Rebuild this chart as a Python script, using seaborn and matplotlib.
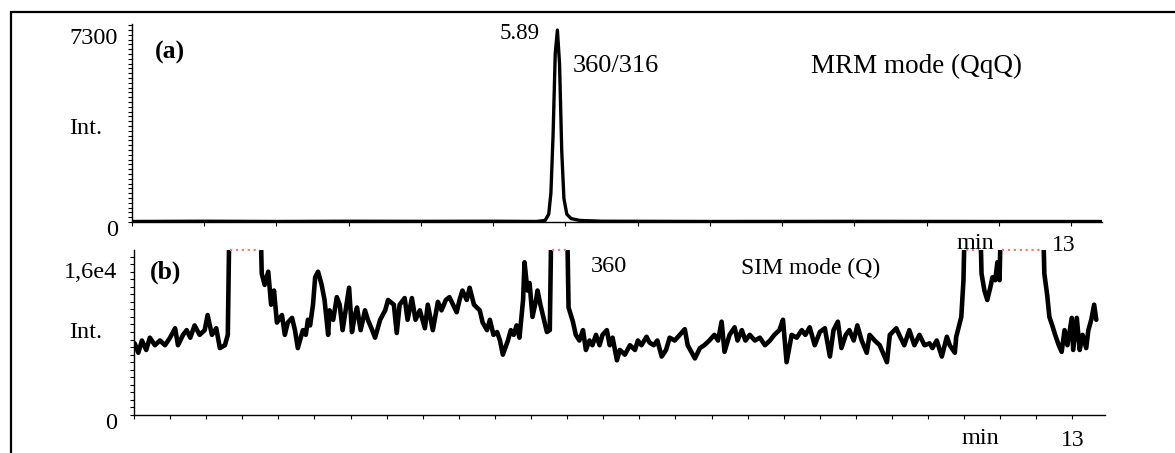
import numpy as np
import matplotlib.pyplot as plt
import seaborn as sns
from matplotlib.ticker import MultipleLocator
from matplotlib import transforms, patches

sns.set_theme(style='white')
plt.rcParams['font.family'] = ['Liberation Serif', 'DejaVu Serif']
plt.rcParams['text.color'] = 'black'

# (a) MRM trace, 360/316 transition
mrm_time = [0.0, 1.0, 2.0, 3.0, 4.0, 5.0, 5.60, 5.72, 5.77, 5.80, 5.83, 5.86, 5.89,
            5.92, 5.95, 5.98, 6.02, 6.08, 6.20, 6.50, 8.0, 10.0, 12.0, 13.43]
mrm_int = [20, 30, 20, 30, 25, 30, 20, 60, 300, 1100, 3300, 6400, 7300,
           6000, 2700, 900, 300, 130, 60, 30, 20, 25, 20, 20]

# (b) SIM trace, m/z 360 (values above the axis top are saturated)
sim_time = [0.01, 0.06, 0.11, 0.17, 0.22, 0.29, 0.36, 0.43, 0.50, 0.57, 0.61, 0.68, 0.73,
            0.78, 0.84, 0.91, 0.98, 1.02, 1.08, 1.14, 1.19, 1.26, 1.30, 1.33, 1.74, 1.77,
            1.81, 1.86, 1.90, 1.94, 1.98, 2.05, 2.09, 2.13, 2.19, 2.23, 2.27, 2.34, 2.38,
            2.41, 2.44, 2.48, 2.51, 2.55, 2.60, 2.64, 2.69, 2.71, 2.76, 2.81, 2.85, 2.89,
            2.98, 3.02, 3.06, 3.09, 3.14, 3.20, 3.24, 3.30, 3.34, 3.41, 3.48, 3.52, 3.60,
            3.64, 3.68, 3.75, 3.79, 3.85, 3.90, 3.96, 4.03, 4.07, 4.14, 4.21, 4.26, 4.32,
            4.37, 4.42, 4.47, 4.51, 4.55, 4.61, 4.65, 4.71, 4.75, 4.79, 4.83, 4.89, 4.93,
            4.98, 5.03, 5.07, 5.11, 5.18, 5.22, 5.26, 5.30, 5.34, 5.39, 5.41, 5.45, 5.48,
            5.52, 5.57, 5.59, 5.63, 5.68, 5.72, 5.76, 5.79, 5.99, 6.02, 6.08, 6.12, 6.17,
            6.22, 6.26, 6.31, 6.35, 6.40, 6.45, 6.49, 6.55, 6.59, 6.63, 6.69, 6.73, 6.80,
            6.87, 6.94, 6.98, 7.03, 7.10, 7.14, 7.20, 7.25, 7.31, 7.37, 7.42, 7.49, 7.56,
            7.63, 7.67, 7.77, 7.84, 7.90, 7.97, 8.04, 8.09, 8.14, 8.18, 8.25, 8.32, 8.36,
            8.42, 8.47, 8.53, 8.60, 8.67, 8.74, 8.81, 8.87, 8.94, 8.99, 9.04, 9.11, 9.18,
            9.25, 9.30, 9.36, 9.43, 9.50, 9.57, 9.64, 9.69, 9.75, 9.80, 9.86, 9.91, 9.97,
            10.02, 10.08, 10.15, 10.19, 10.26, 10.33, 10.43, 10.47, 10.56, 10.60, 10.67,
            10.74, 10.81, 10.88, 10.95, 11.02, 11.06, 11.12, 11.19, 11.26, 11.30, 11.37,
            11.39, 11.46, 11.49, 11.52, 11.71, 11.74, 11.78, 11.82, 11.87, 11.89, 11.93,
            11.96, 11.99, 12.02, 12.58, 12.61, 12.65, 12.68, 12.72, 12.76, 12.81, 12.85,
            12.89, 12.93, 12.99, 13.01, 13.06, 13.10, 13.14, 13.19, 13.22, 13.26, 13.30,
            13.33]
sim_int = [7600, 6600, 7900, 6900, 8200, 7400, 7900, 7400, 8200, 9200, 7400, 8500, 9000,
           8200, 9500, 8500, 9000, 10600, 8500, 9200, 7100, 7400, 8500, 25000, 25000, 15000,
           13800, 15200, 11700, 13200, 9800, 10600, 8500, 9800, 10300, 9000, 7100, 9000, 8500,
           10100, 9500, 11700, 14600, 15200, 13800, 12200, 8500, 11100, 10100, 12500, 11700, 9000,
           13500, 8800, 10600, 11400, 9000, 11100, 10100, 9000, 8200, 10100, 11100, 12200, 11700,
           8700, 11700, 12400, 10100, 12400, 10100, 11100, 9200, 11700, 9000, 12000, 11100, 12200,
           12500, 11700, 10900, 12200, 13200, 12200, 13500, 11700, 11400, 11100, 9800, 9000, 10100,
           8500, 8800, 7900, 6400, 7900, 9000, 8500, 9500, 8200, 12200, 16200, 13200, 14000,
           10400, 12200, 13200, 11700, 10100, 8800, 9000, 25000, 25000, 11400, 9900, 8500, 7900,
           9000, 6900, 7900, 7400, 8500, 7400, 8500, 9000, 7400, 8200, 5800, 6900, 6400,
           7400, 6900, 7900, 7400, 8300, 7700, 7400, 7900, 6200, 6900, 8200, 7900, 8500,
           9100, 7400, 6000, 7100, 7400, 7900, 8500, 7900, 9900, 6700, 8500, 9300, 7900,
           9000, 7900, 8500, 7900, 8200, 7400, 7900, 8500, 9000, 10100, 5600, 8500, 8200,
           9000, 8500, 9300, 7400, 8800, 9200, 6200, 9000, 9900, 7100, 8500, 9000, 7900,
           9500, 7900, 6600, 8500, 7900, 7400, 5600, 8500, 9200, 8500, 7400,
           9000, 7400, 8500, 7400, 7600, 7100, 7900, 6200, 8300, 7400, 6600,
           8300, 10400, 14300, 25000, 25000, 15000, 13200, 12200, 13800, 14600, 14300,
           16200, 14300, 25000, 25000, 15000, 12700, 10400, 9500, 8500, 7400, 6700,
           9000, 7400, 10300, 6900, 10300, 6900, 8500, 7100, 9000, 10100, 11700,
           10100]

MRM_TOP = 7530
SIM_TOP = 17500

fig = plt.figure(figsize=(11.75, 4.53), dpi=100)
axA = fig.add_axes([0.1123, 0.5099, 0.8256, 0.4371])
axB = fig.add_axes([0.1140, 0.0839, 0.8264, 0.3642])
axB.patch.set_alpha(0)

sns.lineplot(x=mrm_time, y=mrm_int, ax=axA, color='black', lw=2.4,
             estimator=None, sort=False)
sns.lineplot(x=sim_time, y=sim_int, ax=axB, color='black', lw=3.3,
             estimator=None, sort=False)

# saturated stretches drawn along the top edge
t = np.array(sim_time)
v = np.array(sim_int, dtype=float)
sat = np.where(v > SIM_TOP, SIM_TOP, np.nan)
axB.plot(t, sat, color='#f08080', ls=':', lw=1.6, clip_on=False, zorder=5)

axA.set_xlim(0, 13.43)
axA.set_ylim(0, MRM_TOP)
axB.set_xlim(0, 13.45)
axB.set_ylim(0, SIM_TOP)

axA.set_yticks([0, 7300], ['0', '7300'])
axA.yaxis.set_minor_locator(MultipleLocator(182.5))
axA.set_xticks([13], ['13'])
axA.xaxis.set_minor_locator(MultipleLocator(1))

axB.set_yticks([0, 16000], ['0', '1,6e4'])
axB.yaxis.set_minor_locator(MultipleLocator(800))
axB.set_xticks([13], ['13'])
axB.xaxis.set_minor_locator(MultipleLocator(0.5))

shift = transforms.ScaledTranslation(0, -0.06, fig.dpi_scale_trans)
for ax, ypad, xpad in [(axA, 7, 6), (axB, 9, 8)]:
    for s in ['top', 'right']:
        ax.spines[s].set_visible(False)
    for s in ['left', 'bottom']:
        ax.spines[s].set_color('black')
        ax.spines[s].set_linewidth(1.0)
    ax.set_xlabel('')
    ax.set_ylabel('')
    ax.tick_params(which='both', left=True, bottom=True, direction='out',
                   length=3, width=0.8, color='black', labelsize=17.5,
                   labelcolor='black')
    ax.tick_params(axis='y', pad=ypad)
    ax.tick_params(axis='x', pad=xpad, labelsize=17)
    for lab in ax.get_yticklabels():
        lab.set_transform(lab.get_transform() + shift)

xshift = transforms.ScaledTranslation(-0.07, 0, fig.dpi_scale_trans)
for lab in axA.get_xticklabels():
    lab.set_transform(lab.get_transform() + xshift)

fig.text(0.073, 0.717, 'Int.', fontsize=17.5, ha='center', va='center')
fig.text(0.073, 0.265, 'Int.', fontsize=17.5, ha='center', va='center')
fig.text(0.1447, 0.885, '(a)', fontsize=18.5, fontweight='bold', ha='center', va='center')
fig.text(0.141, 0.400, '(b)', fontsize=18.5, fontweight='bold', ha='center', va='center')
fig.text(0.4426, 0.927, '5.89', fontsize=16.5, ha='center', va='center')
fig.text(0.524, 0.854, '360/316', fontsize=19, ha='center', va='center')
fig.text(0.780, 0.854, 'MRM mode (QqQ)', fontsize=19.5, ha='center', va='center')
fig.text(0.518, 0.411, '360', fontsize=17.5, ha='center', va='center')
fig.text(0.690, 0.408, 'SIM mode (Q)', fontsize=17, ha='center', va='center')
fig.text(0.830, 0.463, 'min', fontsize=17.5, ha='center', va='center')
fig.text(0.834, 0.033, 'min', fontsize=17.5, ha='center', va='center')

# outer frame (left and top edges visible)
fig.patches.append(patches.Rectangle((0.0094, -0.02), 1.1, 0.9946, transform=fig.transFigure,
                                     fill=False, edgecolor='black', lw=1.6))

fig.savefig('out.png', dpi=100)
